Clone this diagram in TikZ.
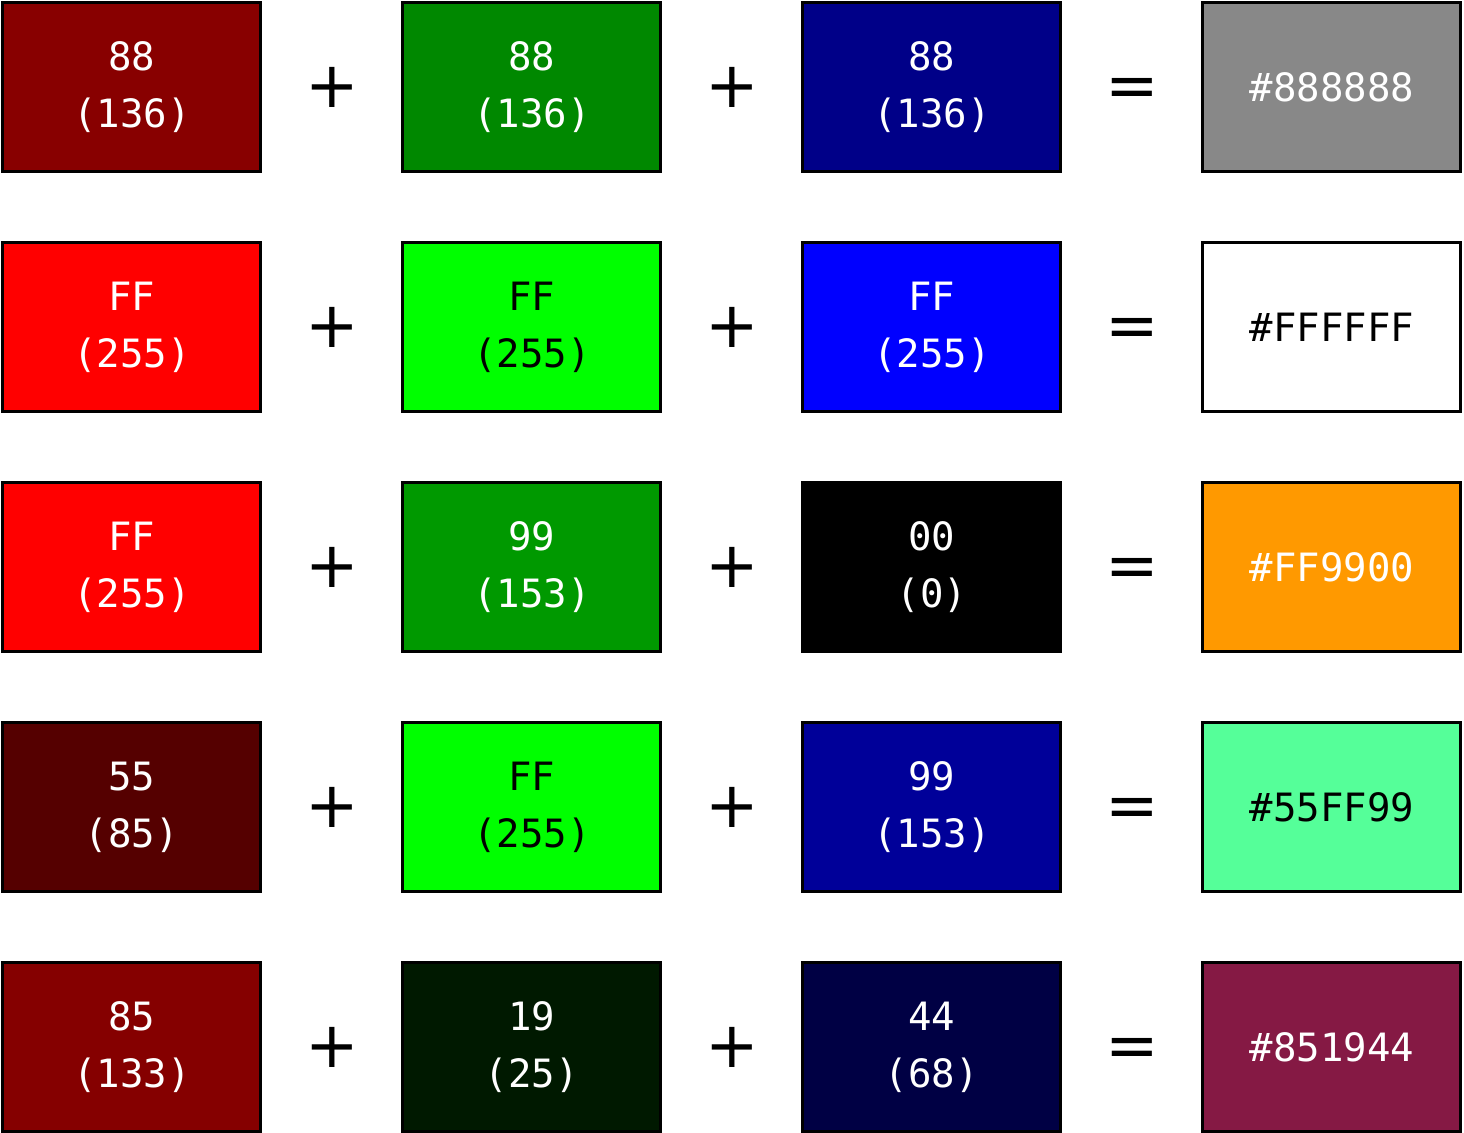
\documentclass[tikz,border=0pt]{standalone}
\usepackage{fontspec}
\setmainfont{DejaVu Sans}
\setmonofont{DejaVu Sans Mono}
\usetikzlibrary{matrix}

\definecolor{red88}{HTML}{880000}
\definecolor{green88}{HTML}{008800}
\definecolor{blue88}{HTML}{000088}
\definecolor{grey88}{HTML}{888888}
\definecolor{redFF}{HTML}{FF0000}
\definecolor{greenFF}{HTML}{00FF00}
\definecolor{blueFF}{HTML}{0000FF}
\definecolor{green99}{HTML}{009900}
\definecolor{orange99}{HTML}{FF9900}
\definecolor{red55}{HTML}{550000}
\definecolor{blue99}{HTML}{000099}
\definecolor{mint99}{HTML}{55FF99}
\definecolor{red85}{HTML}{850000}
\definecolor{green19}{HTML}{001900}
\definecolor{blue44}{HTML}{000044}
\definecolor{wine44}{HTML}{851944}

\begin{document}
\begin{tikzpicture}[
  colorblock/.style={
    rectangle,
    anchor=center,
    draw=black,
    line width=1.5pt,
    text=white,
    align=center,
    inner sep=0pt,
    minimum width=129pt,
    minimum height=84.5pt,
    font=\ttfamily\fontsize{19.5}{28.5}\selectfont
  },
  darktext/.style={text=black},
  sign/.style={
    anchor=center,
    inner sep=0pt,
    outer sep=0pt,
    minimum width=69.5pt,
    font=\fontsize{32}{32}\selectfont
  },
  eqsign/.style={sign, yshift=-3pt}]
  \useasboundingbox (0,0) rectangle (732pt,-566pt);
  \matrix (mix) [
    anchor=north west,
    inner sep=0pt,
    row sep=34pt,
    column sep=0pt] at (0.5pt,-0.5pt) {
   \node[colorblock,fill=red88] (r1) {88\\(136)}; & \node[sign] {+}; &
   \node[colorblock,fill=green88] (g1) {88\\(136)}; & \node[sign] {+}; &
   \node[colorblock,fill=blue88] (b1) {88\\(136)}; & \node[eqsign] {=}; &
   \node[colorblock,fill=grey88] (hex1) {\#888888}; \\
   \node[colorblock,fill=redFF] (r2) {FF\\(255)}; & \node[sign] {+}; &
   \node[colorblock,fill=greenFF,darktext] (g2) {FF\\(255)}; & \node[sign] {+}; &
   \node[colorblock,fill=blueFF] (b2) {FF\\(255)}; & \node[eqsign] {=}; &
   \node[colorblock,fill=white,darktext] (hex2) {\#FFFFFF}; \\
   \node[colorblock,fill=redFF] (r3) {FF\\(255)}; & \node[sign] {+}; &
   \node[colorblock,fill=green99] (g3) {99\\(153)}; & \node[sign] {+}; &
   \node[colorblock,fill=black] (b3) {00\\(0)}; & \node[eqsign] {=}; &
   \node[colorblock,fill=orange99] (hex3) {\#FF9900}; \\
   \node[colorblock,fill=red55] (r4) {55\\(85)}; & \node[sign] {+}; &
   \node[colorblock,fill=greenFF,darktext] (g4) {FF\\(255)}; & \node[sign] {+}; &
   \node[colorblock,fill=blue99] (b4) {99\\(153)}; & \node[eqsign] {=}; &
   \node[colorblock,fill=mint99,darktext] (hex4) {\#55FF99}; \\
   \node[colorblock,fill=red85] (r5) {85\\(133)}; & \node[sign] {+}; &
   \node[colorblock,fill=green19] (g5) {19\\(25)}; & \node[sign] {+}; &
   \node[colorblock,fill=blue44] (b5) {44\\(68)}; & \node[eqsign] {=}; &
   \node[colorblock,fill=wine44] (hex5) {\#851944}; \\
   };
\end{tikzpicture}
\end{document}
